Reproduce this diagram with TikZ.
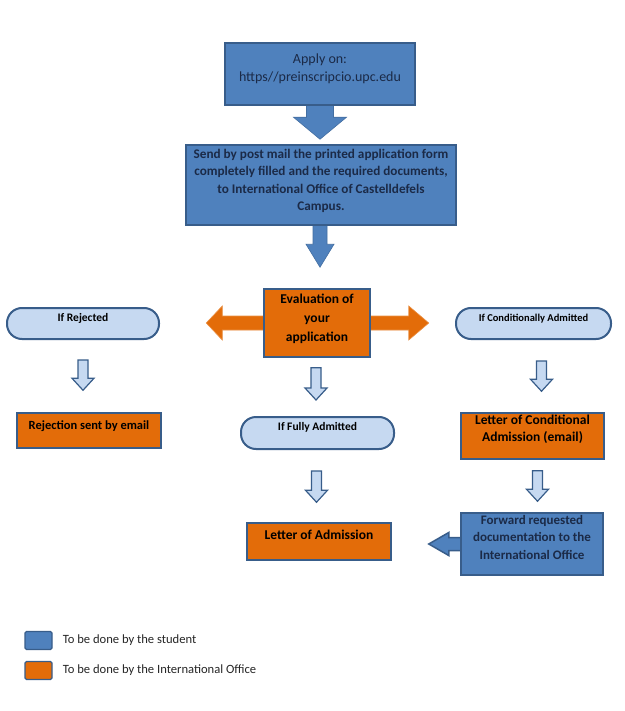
\documentclass[tikz,border=0pt]{standalone}
\usepackage{fontspec}
\setmainfont{Carlito}
\usetikzlibrary{calc,positioning}
\definecolor{stublue}{HTML}{4F81BD}
\definecolor{edgeblue}{HTML}{385D8A}
\definecolor{offorange}{HTML}{E36C09}
\definecolor{paleblue}{HTML}{C6D9F1}
\definecolor{inkblue}{HTML}{1B2A47}
\pgfdeclarelayer{paper}
\pgfdeclarelayer{under}
\pgfsetlayers{paper,under,main}
\tikzstyle{every node}=[align=center,inner sep=1pt]
\tikzstyle{student}=[draw=edgeblue,fill=stublue,line width=1.5pt,text=inkblue]
\tikzstyle{office}=[draw=edgeblue,fill=offorange,line width=1.5pt,text=black]
\tikzstyle{outcome}=[draw=edgeblue,fill=paleblue,line width=2pt,rounded corners=15pt,text=black]
\tikzstyle{bigarrow}=[fill=stublue,draw=stublue!85!black,line width=0.6pt]
\tikzstyle{smallarrow}=[fill=paleblue,draw=edgeblue,line width=1.2pt]
\tikzstyle{sidearrow}=[fill=offorange,draw=offorange!75!white,line width=0.6pt]
\tikzstyle{returnarrow}=[fill=stublue,draw=edgeblue,line width=1.5pt]
\tikzstyle{keybox}=[draw=edgeblue,line width=1.2pt,rounded corners=1.5pt,minimum width=27pt,minimum height=18pt]
\tikzstyle{keytext}=[anchor=west,text=black!85,font=\fontsize{12.6}{15}\selectfont]
\newcommand{\blockdown}[9]{%
  \path[#1] let \p1=(#2.south), \p2=(#3.north) in
    (\x1+#9-#6,\y1-#4) -- (\x1+#9+#6,\y1-#4) -- (\x1+#9+#6,\y2+#5+#8) -- (\x1+#9+#7,\y2+#5+#8)
    -- (\x1+#9,\y2+#5) -- (\x1+#9-#7,\y2+#5+#8) -- (\x1+#9-#6,\y2+#5+#8) -- cycle;}

\begin{document}
\begin{tikzpicture}[x=1pt,y=-1pt]
\begin{pgfonlayer}{paper}
\fill[white] (0,0) rectangle (624,711);
\end{pgfonlayer}
\useasboundingbox (0,0) rectangle (624,711);

\node[student,minimum width=190pt,minimum height=62pt,font=\fontsize{14}{18}\selectfont,text depth=12pt] (apply) at (320,74) {Apply on:\\https//preinscripcio.upc.edu};
\node[student,minimum width=270pt,minimum height=80pt,font=\bfseries\fontsize{13.2}{17.4}\selectfont,text depth=10pt] (send) at (321,185) {Send by post mail the printed application form\\completely filled and the required documents,\\to International Office of Castelldefels\\Campus.};
\node[office,minimum width=106pt,minimum height=68pt,font=\bfseries\fontsize{13.5}{19}\selectfont,text depth=11pt] (eval) at (317,323) {Evaluation of\\your\\application};
\node[outcome,minimum width=152pt,minimum height=31pt,font=\bfseries\fontsize{11.5}{14}\selectfont,text height=8pt,text depth=13pt] (rejected) at (83,323.5) {If Rejected};
\node[outcome,minimum width=155pt,minimum height=31pt,font=\bfseries\fontsize{10.5}{13}\selectfont,text height=8pt,text depth=12pt] (conditional) at (533.5,323.5) {If Conditionally Admitted};
\node[outcome,minimum width=153pt,minimum height=32pt,font=\bfseries\fontsize{11.5}{14}\selectfont,text height=8pt,text depth=12.6pt] (fully) at (317.5,433) {If Fully Admitted};
\node[office,minimum width=144pt,minimum height=35pt,font=\bfseries\fontsize{12.5}{15}\selectfont,text height=9pt,text depth=11pt] (rejection) at (89,430.5) {Rejection sent by email};
\node[office,minimum width=143pt,minimum height=46pt,font=\bfseries\fontsize{13.5}{17}\selectfont,text depth=15pt] (condletter) at (532.5,436) {Letter of Conditional\\Admission (email)};
\node[student,minimum width=142pt,minimum height=62pt,font=\bfseries\fontsize{13}{17.5}\selectfont,text depth=14pt] (forward) at (532,544) {Forward requested\\documentation to the\\International Office};
\node[office,minimum width=144pt,minimum height=37pt,font=\bfseries\fontsize{13.5}{16}\selectfont,text height=10pt,text depth=14.4pt] (admission) at (319,541.5) {Letter of Admission};

\begin{pgfonlayer}{under}
\blockdown{bigarrow}{apply}{send}{-2pt}{5pt}{13.5pt}{26.5pt}{22pt}{0pt}
\blockdown{bigarrow}{send}{eval}{-2pt}{21pt}{7pt}{14pt}{23pt}{-1pt}
\path[sidearrow] let \p1=(eval.west), \p2=(eval.east) in
  (\x1-57pt,\y1) -- (\x1-41pt,\y1+17pt) -- (\x1-41pt,\y1+7pt) -- (\x2+38pt,\y1+7pt) -- (\x2+38pt,\y1+17pt)
  -- (\x2+58pt,\y1) -- (\x2+38pt,\y1-17pt) -- (\x2+38pt,\y1-7pt) -- (\x1-41pt,\y1-7pt) -- (\x1-41pt,\y1-17pt) -- cycle;
\path[returnarrow] let \p1=(forward.west), \p2=(admission.east) in
  (\x1+2pt,\y1-6.5pt) -- (\x2+57pt,\y1-6.5pt) -- (\x2+57pt,\y1-11.5pt) -- (\x2+37pt,\y1)
  -- (\x2+57pt,\y1+11.5pt) -- (\x2+57pt,\y1+6.5pt) -- (\x1+2pt,\y1+6.5pt) -- cycle;
\end{pgfonlayer}
\blockdown{smallarrow}{rejected}{rejection}{20pt}{22pt}{5pt}{11pt}{12pt}{0pt}
\blockdown{smallarrow}{conditional}{condletter}{21pt}{21pt}{5pt}{11pt}{12pt}{8pt}
\blockdown{smallarrow}{condletter}{forward}{11pt}{11pt}{5pt}{11pt}{12pt}{5pt}
\blockdown{smallarrow}{eval}{fully}{10pt}{16pt}{5pt}{11pt}{12pt}{-1pt}
\blockdown{smallarrow}{fully}{admission}{21pt}{20pt}{5pt}{11pt}{12pt}{-1pt}

\node[keybox,fill=stublue] (keystudent) at (38.5,640.5) {};
\node[keytext,right=9pt of keystudent] (keystudenttext) {To be done by the student};
\node[keybox,fill=offorange] (keyoffice) at (38.5,670.5) {};
\node[keytext,right=9pt of keyoffice] (keyofficetext) {To be done by the International Office};
\end{tikzpicture}
\end{document}
